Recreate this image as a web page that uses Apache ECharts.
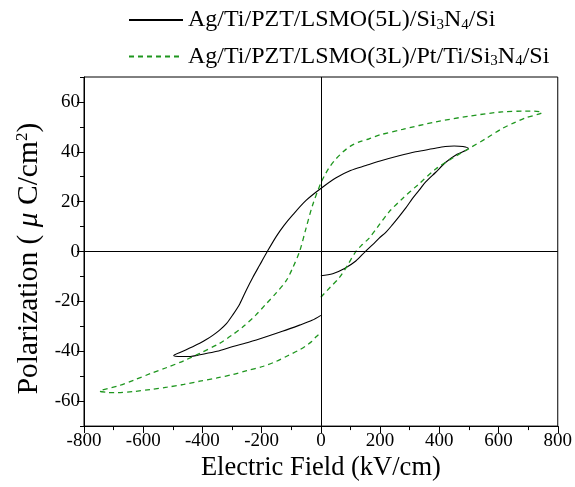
<!DOCTYPE html>
<html>
<head>
<meta charset="utf-8">
<script src="https://cdn.jsdelivr.net/npm/echarts@6/dist/echarts.min.js"></script>
<style>
  html, body { margin: 0; padding: 0; background: #fff; }
  #chart { width: 575px; height: 487px; }
</style>
</head>
<body>
<div id="chart"></div>
<script>
// P-E loops, [field kV/cm, polarization uC/cm2]
var loop5L = [
  [0, -9.7], [40, -8.9], [80, -6.8], [118, -3.8], [150, 0], [175, 2.8], [197, 5.4], [220, 7.8],
  [242, 10.8], [264, 14], [287, 17.5], [309, 21.2], [332, 24.6], [354, 27.9], [388, 31.8],
  [422, 35.8], [460, 39], [498, 41.3],
  [480, 42.1], [450, 42.3], [420, 42.1], [377, 41.2], [320, 40], [264, 38.4], [200, 36.3],
  [152, 34.5], [100, 32.5], [50, 29.5], [0, 25.3], [-50, 20.5], [-95, 14.7], [-125, 10.4],
  [-151, 6], [-181, 0], [-207, -5.5], [-230, -10.4], [-252, -15.5], [-274, -21], [-297, -25.3],
  [-319, -28.9], [-342, -31.5], [-364, -33.5], [-387, -35.3], [-409, -36.8], [-443, -38.7],
  [-470, -40.2], [-497, -41.7],
  [-470, -42.1], [-441, -42.1], [-409, -41.4], [-351, -40], [-297, -38.1], [-241, -36.3],
  [-185, -34.2], [-130, -32], [-72, -29.5], [-30, -27.6], [0, -25.6]
];
var loop3L = [
  [0, -18.3], [30, -14.5], [62, -10.5], [90, -5.5], [118, 0], [140, 2.8], [163, 5.4], [190, 9.6],
  [231, 16], [276, 21.3], [330, 27], [388, 33.1], [445, 37.5], [500, 41.3], [560, 45.5],
  [612, 49.3], [650, 51.5], [691, 53.6], [747, 55.8],
  [720, 56.3], [691, 56.3], [612, 56], [500, 54.3], [388, 52], [276, 49], [200, 46.8],
  [163, 45.2], [130, 44], [100, 42.3], [75, 40], [50, 37], [30, 34], [15, 31], [0, 27.5],
  [-28, 18.6], [-50, 9.4], [-72, 0], [-95, -6.5], [-117, -11.7], [-150, -16.5], [-185, -21],
  [-220, -25.5], [-263, -30.2], [-300, -33.5], [-342, -36.8], [-409, -40.8], [-463, -43.8],
  [-520, -46.5], [-575, -48.9], [-630, -51.5], [-688, -54], [-747, -56],
  [-720, -56.5], [-688, -56.6], [-630, -56.1], [-575, -55.3], [-520, -54.4], [-463, -53.3],
  [-409, -52], [-351, -50.7], [-297, -49.3], [-250, -47.8], [-194, -46], [-150, -44],
  [-112, -41.8], [-72, -39.4], [-50, -37.8], [-30, -36], [-16, -34.2], [0, -32.6]
];
var seriesNames = ['Ag/Ti/PZT/LSMO(5L)/Si3N4/Si', 'Ag/Ti/PZT/LSMO(3L)/Pt/Ti/Si3N4/Si'];
var yTicks = [-60, -40, -20, 0, 20, 40, 60];
var yMinorTicks = [-70, -50, -30, -10, 10, 30, 50, 70];

var serif = 'Liberation Serif';
var chart = echarts.init(document.getElementById('chart'));

var option = {
  animation: false,
  legend: {
    orient: 'vertical',
    left: 128,
    top: 8,
    padding: 0,
    itemWidth: 54,
    itemHeight: 14,
    itemGap: 12,
    data: seriesNames,
    itemStyle: { opacity: 0 },
    formatter: function (name) {
      return name.replace('Si3N4', 'Si{sub|3}N{sub|4}');
    },
    textStyle: {
      fontFamily: serif,
      fontSize: 24,
      color: '#000',
      rich: {
        sub: { fontFamily: serif, fontSize: 15, color: '#000', verticalAlign: 'bottom', padding: [10, 0, 0, 0] }
      }
    }
  },
  grid: {
    left: 84, right: 16, top: 77, bottom: 56,
    show: true, borderColor: '#000', borderWidth: 1
  },
  xAxis: {
    type: 'value',
    min: -800, max: 800, interval: 200,
    name: 'Electric Field (kV/cm)',
    nameLocation: 'middle',
    nameGap: 27,
    nameTextStyle: { fontFamily: serif, fontSize: 26.5, color: '#000' },
    axisLine: { onZero: false, lineStyle: { color: '#000', width: 1 } },
    axisTick: { inside: false, length: 7, lineStyle: { color: '#000' } },
    minorTick: { show: true, splitNumber: 2, length: 4, lineStyle: { color: '#000' } },
    splitLine: { show: false },
    axisLabel: { fontFamily: serif, fontSize: 19, color: '#000', margin: 5 }
  },
  yAxis: [{
    type: 'value',
    min: -70, max: 70, interval: 10,
    name: 'Polarization ( {mu|μ} C/cm{sup|2})',
    nameLocation: 'middle',
    nameGap: 40,
    nameRotate: 90,
    nameTextStyle: {
      fontFamily: serif, fontSize: 29.5, color: '#000',
      padding: [0, 14, 0, 0],
      rich: {
        mu: { fontFamily: serif, fontSize: 29.5, fontStyle: 'italic', color: '#000' },
        sup: { fontFamily: serif, fontSize: 17, color: '#000', verticalAlign: 'top', padding: [0, 0, 13, 0] }
      }
    },
    axisLine: { onZero: false, lineStyle: { color: '#000', width: 1 } },
    axisTick: { customValues: yTicks, length: 7, lineStyle: { color: '#000' } },
    splitLine: { show: false },
    axisLabel: { customValues: yTicks, fontFamily: serif, fontSize: 19, color: '#000', margin: 4 }
  }, {
    // minor ticks only
    type: 'value',
    position: 'left',
    min: -70, max: 70, interval: 10,
    axisLine: { show: false, onZero: false },
    axisTick: { customValues: yMinorTicks, length: 4, lineStyle: { color: '#000' } },
    axisLabel: { show: false },
    splitLine: { show: false }
  }],
  series: [{
    name: seriesNames[0],
    type: 'line',
    data: loop5L,
    symbol: 'none',
    smooth: 0.3,
    lineStyle: { color: '#000', width: 1.1 },
    itemStyle: { color: '#000' },
    markLine: {
      silent: true,
      symbol: 'none',
      label: { show: false },
      lineStyle: { color: '#000', type: 'solid', width: 1 },
      data: [{ xAxis: 0 }, { yAxis: 0 }]
    }
  }, {
    name: seriesNames[1],
    type: 'line',
    data: loop3L,
    symbol: 'none',
    smooth: 0.3,
    lineStyle: { color: '#1e961e', width: 1.3, type: [5, 4] },
    itemStyle: { color: '#1e961e' }
  }]
};
chart.setOption(option);
</script>
</body>
</html>
